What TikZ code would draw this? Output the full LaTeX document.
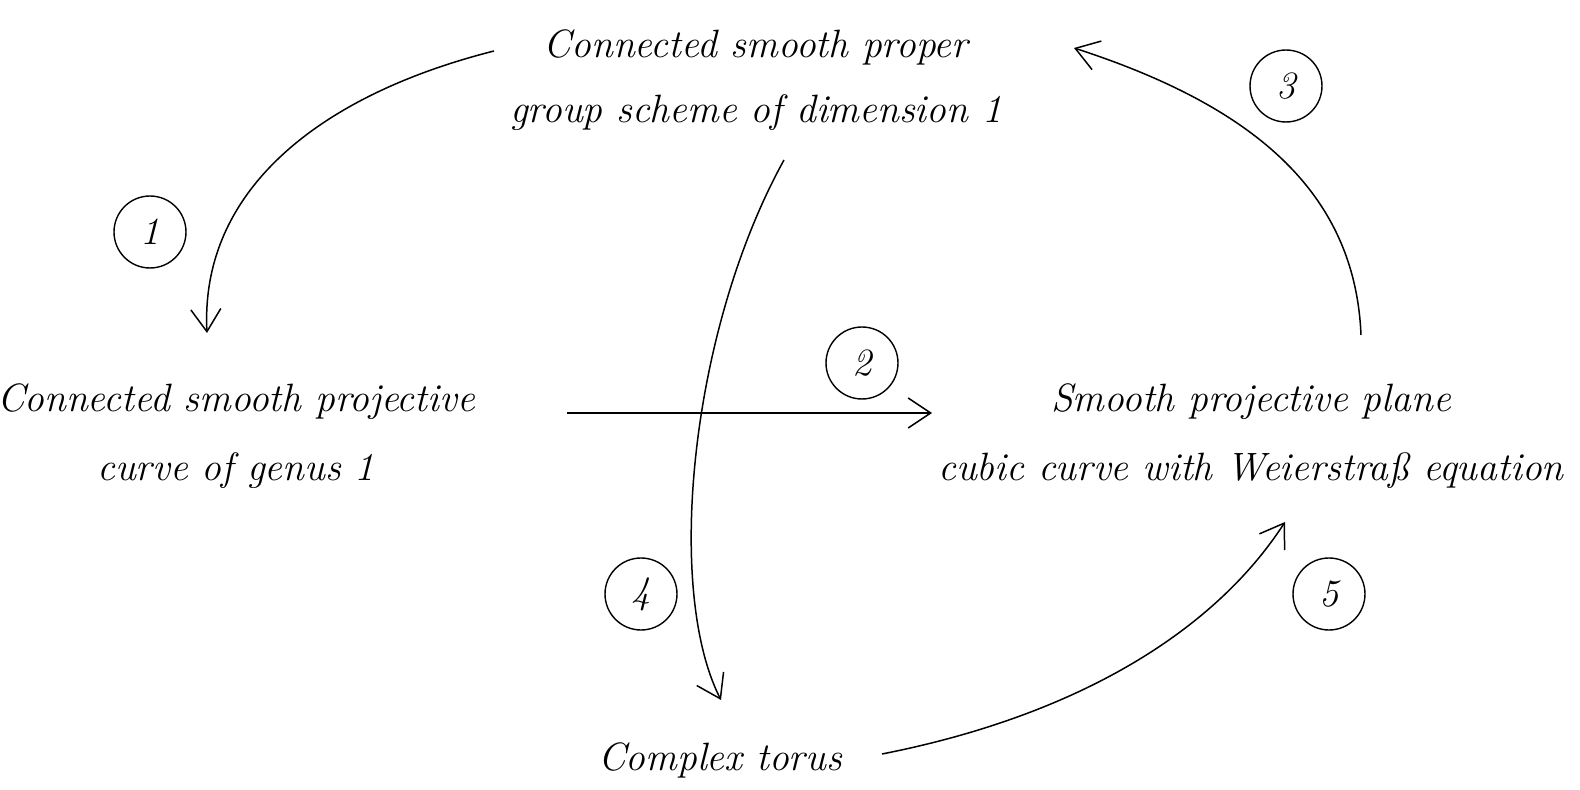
\documentclass[tikz,border=0pt]{standalone}
\usetikzlibrary{arrows.meta}
\begin{document}
\begin{tikzpicture}[x=0.02cm,y=-0.02cm,
  lbl/.style={align=center,inner sep=0pt},
  num/.style={draw,circle,minimum size=1.44cm,inner sep=0pt,line width=0.8pt,font=\fontsize{22}{22}\selectfont\itshape},
  conn/.style={line width=0.85pt,-{Straight Barb[length=4.5mm,width=6mm,line width=0.85pt]}}]
\useasboundingbox (0,0) rectangle (1580,790);
\node[lbl,font=\fontsize{22.5}{36.9}\selectfont\itshape] (top) at (756,80) {Connected smooth proper\\group scheme of dimension 1};
\node[lbl,font=\fontsize{22.5}{39.7}\selectfont\itshape] (left) at (236,436) {Connected smooth projective\\curve of genus 1};
\node[lbl,font=\fontsize{22.5}{39.7}\selectfont\itshape] (right) at (1251,436) {Smooth projective plane\\cubic curve with Weierstraß equation};
\node[lbl,font=\fontsize{22.5}{30}\selectfont\itshape,anchor=base] (bottom) at (720,770) {Complex torus};
\node[num] (n1) at (150,232) {1};
\node[num] (n2) at (862,363) {2};
\node[num] (n3) at (1286,86) {3};
\node[num] (n4) at (641,594) {4};
\node[num] (n5) at (1329,594) {5};
\coordinate (a1s) at (494,51);
\coordinate (a1e) at (207,333);
\coordinate (a2s) at (567,413);
\coordinate (a2e) at (932,413);
\coordinate (a3s) at (1361,335);
\coordinate (a3e) at (1074,48);
\coordinate (a4s) at (784,160);
\coordinate (a4e) at (721,700);
\coordinate (a5s) at (882,754);
\coordinate (a5e) at (1285,522);
\draw[conn] (a1s) .. controls (320,95) and (200,190) .. (a1e);
\draw[conn] (a2s) -- (a2e);
\draw[conn] (a3s) .. controls (1355,190) and (1250,105) .. (a3e);
\draw[conn] (a4s) .. controls (690,330) and (665,590) .. (a4e);
\draw[conn] (a5s) .. controls (1080,715) and (1215,630) .. (a5e);
\end{tikzpicture}
\end{document}
